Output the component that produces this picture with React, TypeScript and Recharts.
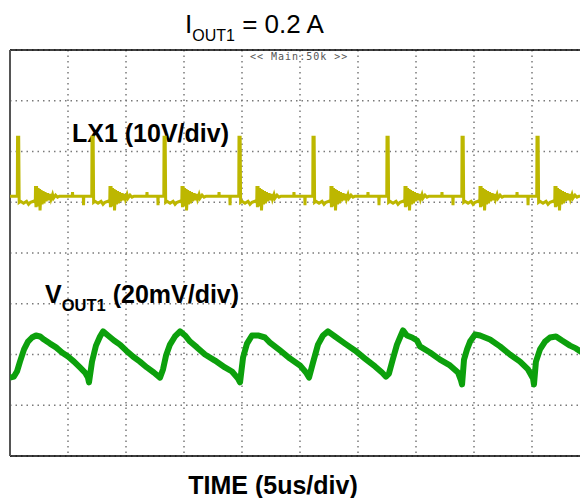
import { LineChart, Line, XAxis, YAxis, CartesianGrid, ReferenceLine } from 'recharts';

// time base: 5 us/div, 10 divisions
const timeTicks = [0, 5, 10, 15, 20, 25, 30, 35, 40, 45, 50];
// LX1 channel: 10 V/div, ground 5 div up from the bottom
const lxTicks = [-50, -40, -30, -20, -10, 0, 10, 20, 30];
// VOUT1 channel: 20 mV/div (AC), zero 2 div up from the bottom
const voutTicks = [-40, -20, 0, 20, 40, 60, 80, 100, 120];

// rising edges of the switch node (us)
const lxEdges = [0.65, 7.07, 13.28, 19.74, 26.12, 32.5, 38.97, 45.43];
const lxIdle = 1.2;
// one switching cycle after an edge: [dt us, volts]
const lxCycle: [number, number][] = [
    [-0.02, 1.2], [0, 12.8], [0.1, 12.8], [0.14, 0],
    [0.26, 0.2], [0.52, -0.2], [0.78, 0.2], [0.95, -0.4], [1.12, 0], [1.38, 0.2], [1.53, 0],
    // ringing when the inductor current runs dry
    [1.55, 3.2], [1.59, -1.0], [1.64, 3.2], [1.68, -0.8], [1.77, 2.8], [1.81, -0.8],
    [1.9, 2.6], [1.94, -1.6], [2.03, 2.4], [2.11, -0.4], [2.2, 2.2], [2.28, -0.2],
    [2.37, 2.0], [2.46, 0.2], [2.59, 1.8], [2.67, 0.4], [2.8, 1.6], [2.89, 0.6],
    [3.02, 1.5], [3.1, 0.8], [3.28, 1.4], [3.45, 1.0], [3.62, 1.2],
    [4.72, 1.2], [4.74, 2.0], [4.76, 1.2], [5.67, 1.2], [5.69, -0.6], [5.71, 1.2], [6.03, 1.2],
];

// output ripple samples (us, mV)
const voutTime = [
    0, 0.34, 0.6, 0.86, 1.21, 1.55, 1.9, 2.24, 2.59, 2.93, 3.45, 3.97, 4.48, 5.0, 5.52, 6.03, 6.47, 6.72, 6.81,
    7.07, 7.41, 7.76, 8.02, 8.45, 8.97, 9.48, 10.0, 10.6, 11.2, 11.8, 12.4, 12.93,
    13.19, 13.45, 13.79, 14.22, 14.66, 15.09, 15.52, 16.12, 16.81, 17.67, 18.53, 19.14, 19.66, 19.83,
    20.09, 20.43, 20.86, 21.38, 21.98, 22.41, 23.28, 24.14, 25.0, 25.52, 25.78,
    26.12, 26.55, 26.98, 27.41, 28.02, 28.88, 29.74, 30.6, 31.47, 32.07, 32.41,
    32.67, 33.02, 33.36, 33.62, 33.88, 34.22, 34.66, 35.09, 35.34, 36.21, 37.07, 37.93, 38.62, 38.88, 38.97,
    39.14, 39.4, 39.66, 40.09, 40.52, 41.38, 42.24, 43.1, 43.97, 44.66, 45.09, 45.17,
    45.34, 45.69, 46.12, 46.55, 47.07, 47.59, 48.28, 48.79, 49.31, 50,
];
const voutMv = [
    -9.1, -8.7, -6.7, -2.8, 2.0, 5.1, 6.7, 7.5, 7.1, 5.9, 4.3, 2.8, 0.8, -0.8, -2.8, -5.1, -7.1, -9.1, -11,
    -2.8, 3.5, 7.1, 9.1, 7.5, 5.5, 3.9, 1.6, -0.8, -2.8, -5.1, -7.1, -9.1,
    -5.9, -0.4, 3.9, 7.1, 9.1, 7.5, 5.1, 2.8, 0, -2.4, -5.1, -6.7, -9.5, -11,
    -1.2, 4.3, 7.5, 7.5, 6.7, 4.7, 1.6, -1.6, -4.3, -7.1, -9.1,
    -3.2, 3.9, 7.5, 9.1, 7.1, 4.3, 1.6, -1.6, -4.7, -7.1, -8.7,
    -7.5, -1.6, 3.9, 6.7, 9.5, 7.5, 6.7, 5.5, 3.2, 0.8, -2.0, -4.3, -7.1, -10.2, -11.8,
    -2.0, 2.0, 5.1, 7.9, 7.5, 5.9, 3.2, 0, -2.8, -5.9, -9.5, -11.8,
    -2.8, 2.0, 5.1, 6.7, 7.1, 5.5, 3.5, 2.4, 0.8, 0,
];

const lxRows = [{ t: 0, v: lxIdle }];
lxEdges.forEach((edge) => {
    lxCycle.forEach(([dt, v]) => lxRows.push({ t: edge + dt, v }));
});

const voutRows = voutTime.map((t, i) => ({ t, v: voutMv[i] }));

const sans = '"Liberation Sans", Arial, sans-serif';

export default function App() {
    return (
        <div style={{ position: 'fixed', left: 0, top: 0, width: 580, height: 498, overflow: 'hidden', background: '#fff' }}>
            <LineChart width={600} height={498} margin={{ top: 50, right: 10, bottom: 42, left: 10 }}>
                <CartesianGrid stroke="#7a7a7a" strokeWidth={1.5} strokeDasharray="1.5 4" />
                <XAxis dataKey="t" type="number" domain={[0, 50]} ticks={timeTicks} allowDataOverflow hide />
                <YAxis type="number" domain={[-50, 30]} ticks={lxTicks} allowDataOverflow hide />
                <YAxis yAxisId="vout" type="number" domain={[-40, 120]} ticks={voutTicks} allowDataOverflow hide />

                <ReferenceLine y={30} stroke="#000" strokeWidth={1.5} />
                <ReferenceLine y={-50} stroke="#000" strokeWidth={1.5} />
                <ReferenceLine x={0} stroke="#555" strokeWidth={2} />

                <Line
                    data={lxRows}
                    dataKey="v"
                    type="linear"
                    stroke="#bdb700"
                    strokeWidth={3}
                    dot={false}
                    activeDot={false}
                    isAnimationActive={false}
                />
                <Line
                    data={voutRows}
                    yAxisId="vout"
                    dataKey="v"
                    type="linear"
                    stroke="#0ca00c"
                    strokeWidth={6}
                    strokeLinejoin="round"
                    dot={false}
                    activeDot={false}
                    isAnimationActive={false}
                />

                <text x={250} y={60} fontFamily='"DejaVu Sans Mono", monospace' fontSize={10} letterSpacing={1} fill="#555">
                    {'<< Main:50k >>'}
                </text>

                <text x={185} y={33} fontFamily={sans} fontSize={26} fill="#000">
                    <tspan>I</tspan>
                    <tspan fontSize={16} dy={8}>OUT1</tspan>
                    <tspan dy={-8}> = 0.2 A</tspan>
                </text>

                <text x={72} y={142} fontFamily={sans} fontSize={25} fontWeight="bold" fill="#000">
                    LX1 (10V/div)
                </text>

                <text x={45} y={303} fontFamily={sans} fontSize={25} fontWeight="bold" fill="#000">
                    <tspan>V</tspan>
                    <tspan fontSize={16.5} dy={8}>OUT1</tspan>
                    <tspan dy={-8}> (20mV/div)</tspan>
                </text>

                <text x={273} y={494} textAnchor="middle" fontFamily={sans} fontSize={25} fontWeight="bold" fill="#000">
                    TIME (5us/div)
                </text>
            </LineChart>
        </div>
    );
}
